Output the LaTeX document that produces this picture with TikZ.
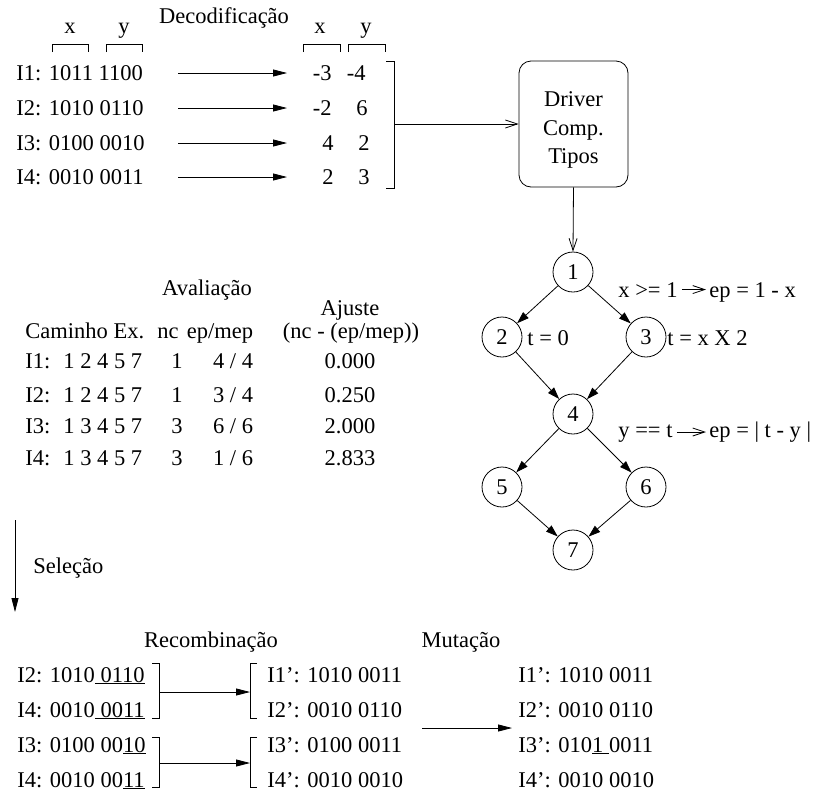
\documentclass[tikz,border=0pt]{standalone}
\usepackage{fontspec}
\setmainfont{Liberation Serif}
\usetikzlibrary{arrows.meta}
\begin{document}
\begin{tikzpicture}[x=1pt,y=-1pt,
  font=\fontsize{22.5}{26}\selectfont,
  line width=0.8pt,
  tri/.style={-{Triangle[length=14pt,width=7pt]}},
  gtri/.style={-{Triangle[length=12pt,width=8pt]}},
  opn/.style={-{Straight Barb[length=12pt,width=8pt]}},
  txt/.style={inner sep=0pt, anchor=base west},
  ctr/.style={inner sep=0pt, anchor=base},
  rgt/.style={inner sep=0pt, anchor=base east},
  vnode/.style={circle, draw, minimum size=40pt, inner sep=0pt},
]
\useasboundingbox (0,0) rectangle (815,796);

% ---------- Decodificacao ----------
\node[ctr] (dec) at (224,23) {Decodificação};
\node[ctr] (xl) at (70,33) {x};
\node[ctr] (yl) at (124,33) {y};
\draw (52,52) -- (52,44) -- (88,44) -- (88,52);
\draw (106,52) -- (106,44) -- (142,44) -- (142,52);
\node[ctr] (xr) at (320,33) {x};
\node[ctr] (yr) at (366,33) {y};
\draw (303,52) -- (303,44) -- (340,44) -- (340,52);
\draw (348,52) -- (348,44) -- (385,44) -- (385,52);

\node[txt] (r1) at (16,80) {I1: 1011 1100};
\node[txt] (r2) at (16,115) {I2: 1010 0110};
\node[txt] (r3) at (16,150) {I3: 0100 0010};
\node[txt] (r4) at (16,184) {I4: 0010 0011};

\foreach \i/\y in {1/73,2/108,3/143,4/177}{
  \coordinate (as\i) at (178,\y);
  \coordinate (ae\i) at (287,\y);
  \draw[tri] (as\i) -- (ae\i);
}

\node[rgt] (v1x) at (332,80) {-3};  \node[rgt] (v1y) at (366,80) {-4};
\node[rgt] (v2x) at (332,115) {-2}; \node[rgt] (v2y) at (368,115) {6};
\node[rgt] (v3x) at (334,150) {4};  \node[rgt] (v3y) at (370,150) {2};
\node[rgt] (v4x) at (334,184) {2};  \node[rgt] (v4y) at (370,184) {3};

\draw (386,61) -- (394,61) -- (394,188) -- (386,188);
\coordinate (bmid) at (394,124);

% ---------- Driver box ----------
\node[draw, rounded corners=12pt, minimum width=109pt, minimum height=126pt] (drv) at (573.5,124) {};
\node[align=center, inner sep=0pt, font=\fontsize{22.5}{28.5}\selectfont] (drvt) at ([yshift=-6pt]drv.center) {Driver\\Comp.\\Tipos};
\draw[opn] (bmid) -- (drv.west);

% ---------- Graph ----------
\node[vnode] (n1) at (573,272) {1};
\node[vnode] (n2) at (502,337) {2};
\node[vnode] (n3) at (646,337) {3};
\node[vnode] (n4) at (573,414) {4};
\node[vnode] (n5) at (502,487) {5};
\node[vnode] (n6) at (646,487) {6};
\node[vnode] (n7) at (573,550) {7};
\draw[opn] (drv.south) -- (n1.north);
\draw[gtri] (n1) -- (n2);
\draw[gtri] (n1) -- (n3);
\draw[gtri] (n2) -- (n4);
\draw[gtri] (n3) -- (n4);
\draw[gtri] (n4) -- (n5);
\draw[gtri] (n4) -- (n6);
\draw[gtri] (n5) -- (n7);
\draw[gtri] (n6) -- (n7);

\node[txt] (t0) at (527,345) {t = 0};
\node[txt] (t2) at (667,345) {t = x X 2};
\node[txt] (c1) at (618,297) {x >= 1};
\node[txt] (e1) at (709,297) {ep = 1 - x};
\draw[opn] ([xshift=4pt]c1.east) -- ([xshift=-3pt]c1.east -| e1.west);
\node[txt] (c2) at (618,437) {y == t};
\node[txt] (e2) at (709,437) {ep = | t - y |};
\coordinate (c2s) at ([xshift=4pt]c2.east |- 0,432);
\coordinate (c2e) at ([xshift=-3pt]e2.west |- 0,432);
\draw[opn] (c2s) -- (c2e);

% ---------- Avaliacao ----------
\node[ctr] (aval) at (207,295) {Avaliação};
\node[ctr] (ajus) at (350,315) {Ajuste};
\node[txt] (h1) at (25,338) {Caminho Ex.};
\node[ctr] (h2) at (168,338) {nc};
\node[ctr] (h3) at (220,338) {ep/mep};
\node[ctr] (h4) at (351,338) {(nc - (ep/mep))};

\node[txt] (p1) at (25,368) {I1:\hspace{13pt}1 2 4 5 7};
\node[txt] (p2) at (25,402) {I2:\hspace{13pt}1 2 4 5 7};
\node[txt] (p3) at (25,433) {I3:\hspace{13pt}1 3 4 5 7};
\node[txt] (p4) at (25,465) {I4:\hspace{13pt}1 3 4 5 7};
\node[ctr] (q1) at (177,368) {1};
\node[ctr] (q2) at (177,402) {1};
\node[ctr] (q3) at (177,433) {3};
\node[ctr] (q4) at (177,465) {3};
\node[ctr] (m1) at (233,368) {4 / 4};
\node[ctr] (m2) at (233,402) {3 / 4};
\node[ctr] (m3) at (233,433) {6 / 6};
\node[ctr] (m4) at (233,465) {1 / 6};
\node[ctr] (f1) at (350,368) {0.000};
\node[ctr] (f2) at (350,402) {0.250};
\node[ctr] (f3) at (350,433) {2.000};
\node[ctr] (f4) at (350,465) {2.833};

% ---------- Selecao ----------
\coordinate (s0) at (15,520);
\coordinate (s1) at (15,612);
\draw[tri] (s0) -- (s1);
\node[txt] (sel) at (33,573) {Seleção};

% ---------- Recombinacao / Mutacao ----------
\node[ctr] (rec) at (211,647) {Recombinação};
\node[ctr] (mut) at (461,647) {Mutação};

\node[txt] (b1) at (17,682) {I2: 1010\underline{\ 0110}};
\node[txt] (b2) at (17,717) {I4: 0010\underline{\ 0011}};
\node[txt] (b3) at (17,752) {I3: 0100 00\underline{10}};
\node[txt] (b4) at (17,787) {I4: 0010 00\underline{11}};

\draw (152,663) -- (159,663) -- (159,718) -- (152,718);
\draw (257,663) -- (250,663) -- (250,718) -- (257,718);
\coordinate (g1s) at (159,692); \coordinate (g1e) at (250,692);
\draw[tri] (g1s) -- (g1e);
\draw (152,737) -- (159,737) -- (159,787) -- (152,787);
\draw (257,737) -- (250,737) -- (250,787) -- (257,787);
\coordinate (g2s) at (159,763); \coordinate (g2e) at (250,763);
\draw[tri] (g2s) -- (g2e);

\node[txt] (c1r) at (267,682) {I1’: 1010 0011};
\node[txt] (c2r) at (267,717) {I2’: 0010 0110};
\node[txt] (c3r) at (267,752) {I3’: 0100 0011};
\node[txt] (c4r) at (267,787) {I4’: 0010 0010};

\coordinate (ms) at (422,728); \coordinate (me) at (512,728);
\draw[tri] (ms) -- (me);

\node[txt] (u1) at (518,682) {I1’: 1010 0011};
\node[txt] (u2) at (518,717) {I2’: 0010 0110};
\node[txt] (u3) at (518,752) {I3’: 010\underline{1\ }0011};
\node[txt] (u4) at (518,787) {I4’: 0010 0010};
\end{tikzpicture}
\end{document}
